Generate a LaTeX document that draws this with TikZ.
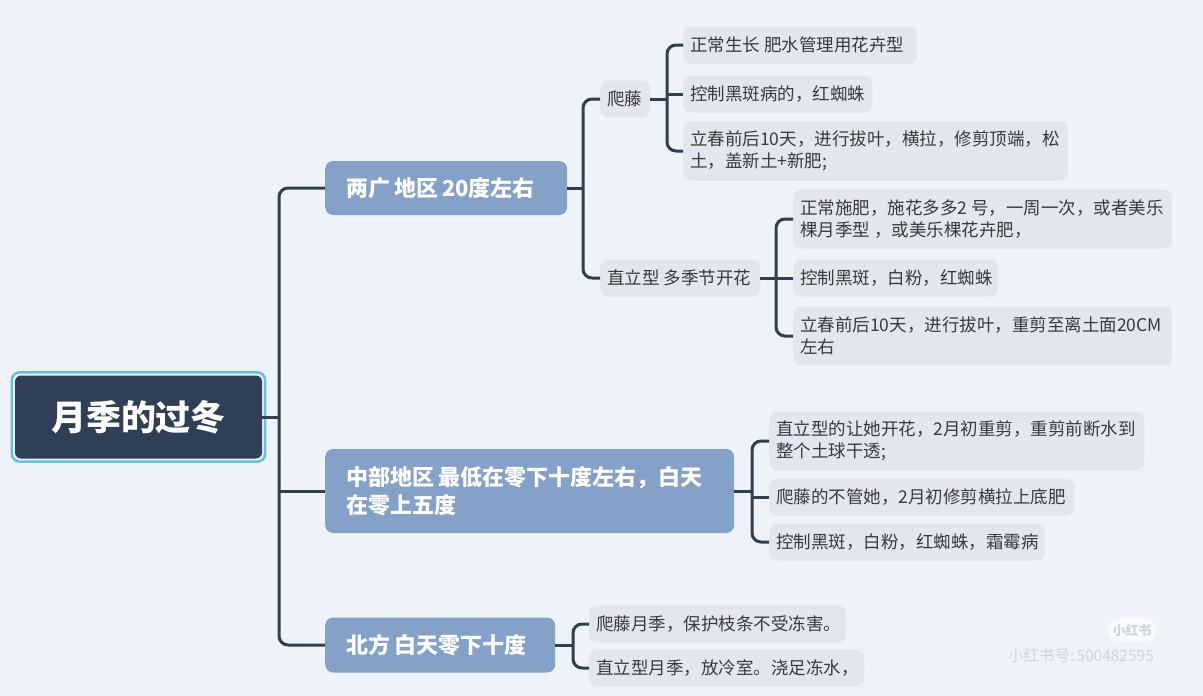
\documentclass[tikz,border=0pt]{standalone}
\usepackage{fontspec}
\setmainfont{Noto Sans CJK SC}
\usetikzlibrary{calc}
\definecolor{bgc}{RGB}{237,243,248}
\definecolor{leafc}{RGB}{226,231,239}
\definecolor{mainc}{RGB}{132,161,200}
\definecolor{rootc}{RGB}{49,63,86}
\definecolor{rootb}{RGB}{98,194,226}
\definecolor{conncol}{RGB}{51,63,80}
\definecolor{txtc}{RGB}{58,58,58}
\definecolor{wmc}{RGB}{208,213,219}
\definecolor{wmfill}{RGB}{249,250,252}
\newcommand{\gapsp}{\hspace{4pt}}
\begin{document}
\begin{tikzpicture}[x=1pt,y=-1pt,
  conn/.style={draw=conncol,line width=3pt,rounded corners=9pt},
  leafbox/.style={fill=leafc,rounded corners=8pt,anchor=west,inner xsep=7pt,inner ysep=0pt,
    align=left,text=txtc,font=\fontsize{17.5}{21.5}\selectfont,minimum height=37pt},
  leaftwo/.style={leafbox,minimum height=59pt},
  mainbox/.style={fill=mainc,rounded corners=8pt,anchor=west,inner xsep=21pt,inner ysep=0pt,
    align=left,text=white,font=\fontsize{22}{28}\bfseries\selectfont},
  rootbox/.style={fill=rootc,rounded corners=6pt,minimum width=247pt,minimum height=83pt,
    inner sep=0pt,text=white,font=\fontsize{35}{35}\bfseries\selectfont},
  wmtext/.style={text=wmc,inner sep=0pt}
]
\useasboundingbox (0,0) rectangle (1203,696);
\fill[bgc] (0,0) rectangle (1203,696);

% root
\node[rootbox] (root) at (138.5,417) {月季的过冬};
\draw[rootb,line width=2.5pt,rounded corners=8pt]
  ($(root.north west)+(-3,-3)$) rectangle ($(root.south east)+(3,3)$);

% main nodes
\node[mainbox,text width=200pt,minimum height=54pt] (m1) at (325,188) {两广\gapsp 地区\gapsp 20度左右};
\node[mainbox,text width=367pt,minimum height=84pt] (m2) at (325,491) {中部地区\gapsp 最低在零下十度左右，白天\\在零上五度};
\node[mainbox,text width=188pt,minimum height=55pt] (m3) at (325,645) {北方\gapsp 白天零下十度};

% level 2 under m1
\node[leafbox,text width=36pt] (b1) at (600,99) {爬藤};
\node[leafbox,text width=146pt] (b2) at (600,278) {直立型\gapsp 多季节开花};

% under b1
\node[leafbox,text width=220pt] (a1) at (683,45) {正常生长\gapsp 肥水管理用花卉型};
\node[leafbox,text width=175pt] (a2) at (683,94) {控制黑斑病的，红蜘蛛};
\node[leaftwo,text width=371pt] (a3) at (683,151) {立春前后10天，进行拔叶，横拉，修剪顶端，松\\土，盖新土+新肥;};

% under b2
\node[leaftwo,text width=365pt] (c1) at (793,219) {正常施肥，施花多多2\gapsp 号，一周一次，或者美乐\\棵月季型\gapsp ，或美乐棵花卉肥，};
\node[leafbox,text width=191pt] (c2) at (793,278) {控制黑斑，白粉，红蜘蛛};
\node[leaftwo,text width=365pt] (c3) at (793,336) {立春前后10天，进行拔叶，重剪至离土面20CM\\左右};

% under m2
\node[leaftwo,text width=361pt] (d1) at (769,441) {直立型的让她开花，2月初重剪，重剪前断水到\\整个土球干透;};
\node[leafbox,text width=291pt] (d2) at (769,497) {爬藤的不管她，2月初修剪横拉上底肥};
\node[leafbox,text width=262pt] (d3) at (769,542) {控制黑斑，白粉，红蜘蛛，霜霉病};

% under m3
\node[leafbox,text width=243pt] (e1) at (589,624) {爬藤月季，保护枝条不受冻害。};
\node[leafbox,text width=261pt] (e2) at (589,668) {直立型月季，放冷室。浇足冻水，};

% branch points
\coordinate (T) at (279,417);
\coordinate (B) at (583,188);
\coordinate (Ba) at (667,99);
\coordinate (Bb) at (776,278);
\coordinate (D) at (752,491);
\coordinate (E) at (573,645);

% connectors
\draw[conn] (root.east) -- (T);
\draw[conn] (m1.west) -| (T) |- (m3.west);
\draw[conn] (T |- m2.west) -- (m2.west);

\draw[conn] (m1.east) -- (B);
\draw[conn] (b1.west) -| (B) |- (b2.west);

\draw[conn] (b1.east) -- (Ba);
\draw[conn] (a1.west) -| (Ba) |- (a3.west);
\draw[conn] (Ba |- a2.west) -- (a2.west);

\draw[conn] (b2.east) -- (Bb);
\draw[conn] (c1.west) -| (Bb) |- (c3.west);
\draw[conn] (Bb |- c2.west) -- (c2.west);

\draw[conn] (m2.east) -- (D);
\draw[conn] (d1.west) -| (D) |- (d3.west);
\draw[conn] (D |- d2.west) -- (d2.west);

\draw[conn] (m3.east) -- (E);
\draw[conn] (e1.west) -| (E) |- (e2.west);

% watermark
\node[fill=wmfill,rounded corners=11pt,minimum width=48pt,minimum height=24pt,inner sep=0pt,
  text=wmc,font=\fontsize{13}{13}\bfseries\selectfont] (wm1) at (1132,630) {小红书};
\node[wmtext,font=\fontsize{15.5}{15.5}\selectfont] (wm2) at (1081,656) {小红书号:\hspace{2pt}500482595};
\end{tikzpicture}
\end{document}
